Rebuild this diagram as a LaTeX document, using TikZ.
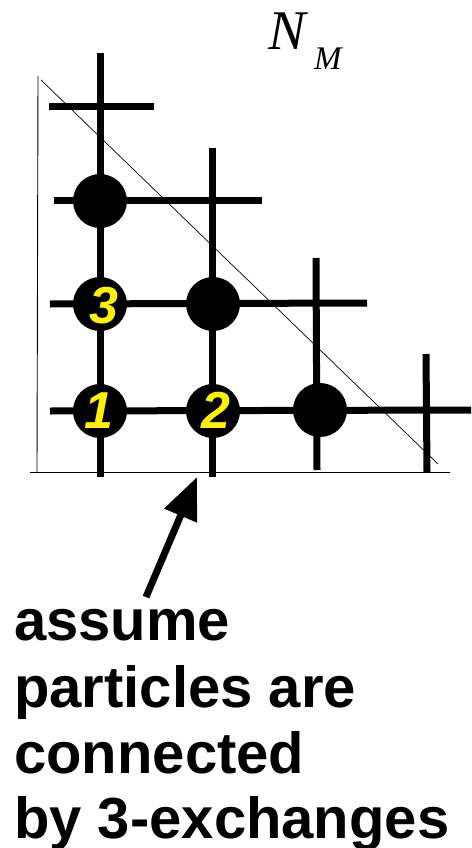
\documentclass[tikz,border=0pt]{standalone}
\usepackage{fontspec}
\setmainfont{Liberation Sans}
\newfontfamily\timesfam{Liberation Serif}
\usetikzlibrary{arrows.meta}
\begin{document}
\begin{tikzpicture}[x=1pt,y=-1pt,
  gridline/.style={line width=7pt},
  axisline/.style={line width=0.9pt},
  dot/.style={circle,fill=black,minimum size=54pt,inner sep=0pt},
  num/.style={text=yellow,inner sep=0pt,font=\fontsize{52}{52}\selectfont\bfseries\itshape},
  caption/.style={anchor=base west,inner sep=0pt,font=\fontsize{58}{66}\selectfont\bfseries}]
\useasboundingbox (0,0) rectangle (471,848);
% axes
\coordinate (ytop) at (38,76);
\coordinate (origin) at (37,472);
\coordinate (xend) at (450,472);
\coordinate (xstart) at (30,472);
\draw[axisline] (ytop) -- (origin);
\draw[axisline] (xstart) -- (xend);
\coordinate (d1) at (41,80);
\coordinate (d2) at (438,464);
\draw[line width=0.7pt] (d1) -- (d2);
% grid lines
\coordinate (v1a) at (100,53);  \coordinate (v1b) at (100,477);
\coordinate (v2a) at (212,148); \coordinate (v2b) at (212,477);
\coordinate (v3a) at (316,258); \coordinate (v3b) at (317,470);
\coordinate (v4a) at (426,354); \coordinate (v4b) at (427,472);
\coordinate (h1a) at (50,411);  \coordinate (h1b) at (471,410);
\coordinate (h2a) at (50,304);  \coordinate (h2b) at (367,303);
\coordinate (h3a) at (54,200);  \coordinate (h3b) at (262,200);
\coordinate (h4a) at (49,107);  \coordinate (h4b) at (154,107);
\foreach \a/\b in {v1a/v1b,v2a/v2b,v3a/v3b,v4a/v4b,h1a/h1b,h2a/h2b,h3a/h3b,h4a/h4b}
  \draw[gridline] (\a) -- (\b);
% particles
\node[dot] (p11) at (100,411) {};
\node[dot] (p21) at (213,411) {};
\node[dot] (p31) at (320,410) {};
\node[dot] (p12) at (100,304) {};
\node[dot] (p22) at (213,304) {};
\node[dot] (p13) at (100,201) {};
\node[num] (l1) at (99,411) {1};
\node[num] (l2) at (216,410) {2};
\node[num] (l3) at (104,306) {3};
% N_M label
\node[anchor=base west,inner sep=0pt,font=\fontsize{56}{56}\selectfont\timesfam\itshape] (NN) at (268,50) {N};
\node[anchor=base west,inner sep=0pt,font=\fontsize{33}{33}\selectfont\timesfam\itshape] (MM) at (314,70) {M};
% arrow
\coordinate (atail) at (146,597);
\coordinate (atip) at (197,477);
\draw[line width=7pt,-{Triangle[length=42pt,width=34pt]}] (atail) -- (atip);
% caption
\node[caption] (t1) at (14,640) {assume};
\node[caption] (t2) at (14,707) {particles are};
\node[caption] (t3) at (14,773) {connected};
\node[caption] (t4) at (14,838) {by 3-exchanges};
\end{tikzpicture}
\end{document}
